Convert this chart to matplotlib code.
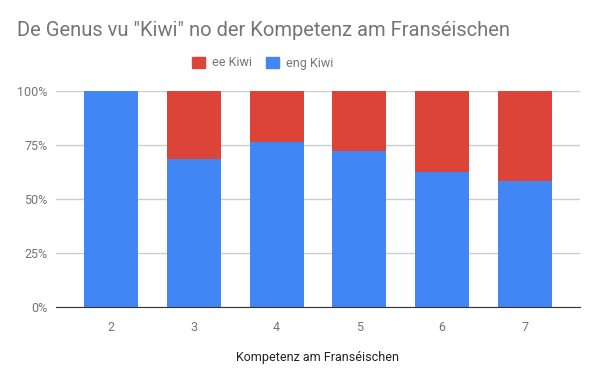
import matplotlib
matplotlib.use("Agg")
import matplotlib.pyplot as plt
from matplotlib.patches import Patch
from matplotlib.ticker import FuncFormatter

plt.rcParams["font.family"] = ["Roboto", "DejaVu Sans"]

# Kompetenz am Franséischen -> share of answers (%)
levels = ["2", "3", "4", "5", "6", "7"]
eng_kiwi = [100.0, 68.5, 76.5, 72.2, 62.6, 58.3]
ee_kiwi = [0.0, 31.5, 23.5, 27.8, 37.4, 41.7]

BLUE = "#4285f4"
RED = "#db4437"
GREY = "#757575"

fig = plt.figure(figsize=(6.0, 3.81), dpi=100)
ax = fig.add_axes([56 / 600, 1 - 307.3 / 381, 524 / 600, 216.6 / 381])

x = list(range(len(levels)))
ax.bar(x, eng_kiwi, width=0.65, color=BLUE, zorder=2)
ax.bar(x, ee_kiwi, width=0.65, bottom=eng_kiwi, color=RED, zorder=2)

ax.set_xlim(-0.663, len(levels) - 1 + 0.663)
ax.set_ylim(0, 100)
ax.set_yticks([0, 25, 50, 75, 100])
ax.yaxis.set_major_formatter(FuncFormatter(lambda v, _: f"{v:.0f}%"))
ax.set_xticks(x)
ax.set_xticklabels(levels)
ax.tick_params(axis="both", length=0, labelsize=9, colors=GREY)
ax.tick_params(axis="x", pad=10)
ax.tick_params(axis="y", pad=6)

ax.grid(axis="y", color="#cccccc", linewidth=1, zorder=0)
for s in ("top", "right", "left"):
    ax.spines[s].set_visible(False)
ax.spines["bottom"].set_color("#333333")
ax.spines["bottom"].set_zorder(3)

ax.set_xlabel("Kompetenz am Franséischen", fontsize=9, color="#222222", labelpad=12)

fig.text(17 / 600, 1 - 31 / 381, 'De Genus vu "Kiwi" no der Kompetenz am Franséischen',
         fontsize=14.5, color=GREY, va="center", ha="left")

handles = [Patch(facecolor=RED, edgecolor=RED), Patch(facecolor=BLUE, edgecolor=BLUE)]
fig.legend(handles, ["ee Kiwi", "eng Kiwi"], loc="center", ncol=2,
           bbox_to_anchor=(263 / 600, 1 - 63 / 381), frameon=False,
           fontsize=9, labelcolor=GREY, handlelength=1.0, handleheight=1.0,
           handletextpad=0.6, columnspacing=1.1)

fig.savefig("out.png", dpi=100)
